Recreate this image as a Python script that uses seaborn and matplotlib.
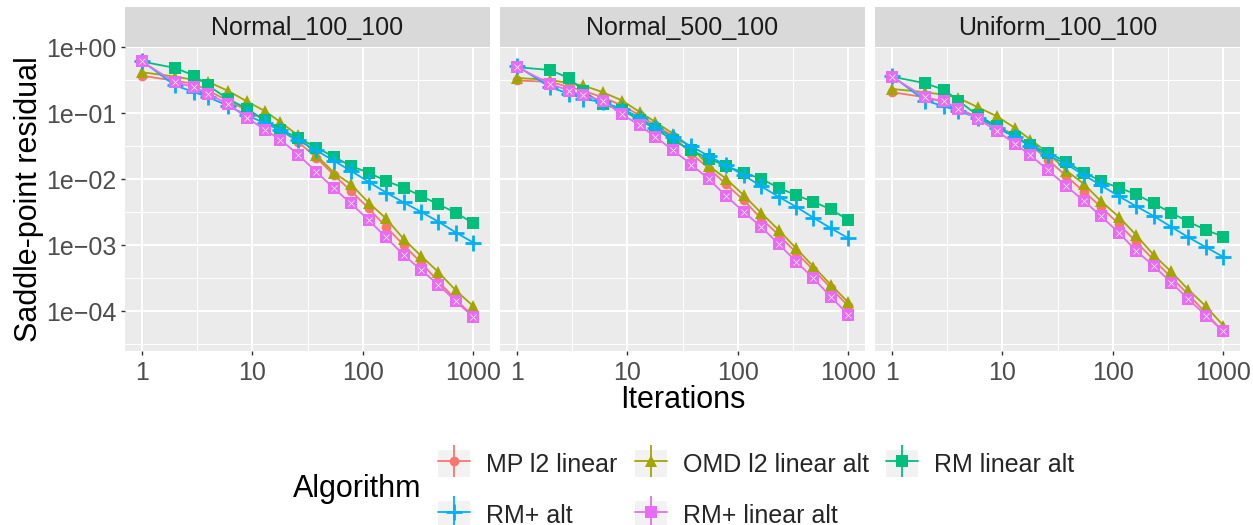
import numpy as np
import pandas as pd
import matplotlib
matplotlib.use("Agg")
import matplotlib.pyplot as plt
import seaborn as sns
from matplotlib.lines import Line2D
from matplotlib.patches import Rectangle
from matplotlib.legend_handler import HandlerTuple
from matplotlib.ticker import FixedLocator, NullFormatter

# iterations (log spaced, rounded)
iters = [1, 2, 3, 4, 6, 9, 13, 18, 26, 38, 55, 78, 113, 162, 234, 336, 483, 695, 1000]

panels = ["Normal_100_100", "Normal_500_100", "Uniform_100_100"]
algorithms = ["MP l2 linear", "OMD l2 linear alt", "RM linear alt", "RM+ alt", "RM+ linear alt"]

# Normal_100_100
n1_mp = [0.373, 0.31, 0.28, 0.22, 0.156, 0.110, 0.078, 0.056, 0.0367, 0.0212, 0.0115, 0.00667,
         0.0036, 0.0019, 0.0010, 0.000544, 0.00028, 0.000148, 0.000083]
n1_omd = [0.42, 0.36, 0.32, 0.30, 0.22, 0.151, 0.108, 0.0736, 0.046, 0.023, 0.0125, 0.0084,
          0.0044, 0.00254, 0.00124, 0.000686, 0.000389, 0.000205, 0.000118]
n1_rm = [0.61, 0.487, 0.373, 0.264, 0.166, 0.117, 0.078, 0.0563, 0.0426, 0.0301, 0.0218, 0.0159,
         0.0125, 0.00944, 0.0074, 0.0056, 0.00414, 0.0031, 0.00214]
n1_rmp = [0.63, 0.264, 0.209, 0.175, 0.131, 0.0927, 0.071, 0.055, 0.0388, 0.0274, 0.0189, 0.0134,
          0.0091, 0.00628, 0.00444, 0.0032, 0.00226, 0.00155, 0.00109]
n1_rmpl = [0.61, 0.296, 0.249, 0.197, 0.139, 0.0855, 0.0563, 0.0398, 0.0236, 0.0129, 0.00723, 0.00429,
           0.0024, 0.00131, 0.00071, 0.000421, 0.00025, 0.00014, 0.000081]

# Normal_500_100
n5_mp = [0.314, 0.30, 0.25, 0.22, 0.175, 0.131, 0.093, 0.0655, 0.045, 0.0244, 0.0145, 0.0084,
         0.0048, 0.00254, 0.00143, 0.00077, 0.00042, 0.000223, 0.000118]
n5_omd = [0.344, 0.32, 0.286, 0.264, 0.209, 0.156, 0.104, 0.0736, 0.049, 0.0301, 0.0159, 0.0102,
          0.00573, 0.0031, 0.0017, 0.000896, 0.000473, 0.00025, 0.000135]
n5_rm = [0.50, 0.454, 0.34, 0.22, 0.136, 0.112, 0.078, 0.0583, 0.0388, 0.0274, 0.0205, 0.0159,
         0.0125, 0.0102, 0.0074, 0.00573, 0.00454, 0.00348, 0.0024]
n5_rmp = [0.528, 0.249, 0.197, 0.166, 0.147, 0.117, 0.0855, 0.060, 0.0436, 0.0315, 0.0223, 0.0163,
          0.0115, 0.00783, 0.0054, 0.00382, 0.0026, 0.0018, 0.00127]
n5_rmpl = [0.51, 0.279, 0.22, 0.186, 0.156, 0.096, 0.0655, 0.0436, 0.0274, 0.0167, 0.0099, 0.0056,
           0.0032, 0.0019, 0.00104, 0.000564, 0.000315, 0.000163, 0.000088]

# Uniform_100_100
u1_mp = [0.209, 0.175, 0.147, 0.117, 0.088, 0.065, 0.046, 0.0327, 0.0198, 0.0111, 0.00644, 0.00382,
         0.00209, 0.00113, 0.000597, 0.000327, 0.000177, 0.0000933, 0.0000476]
u1_omd = [0.234, 0.209, 0.19, 0.171, 0.124, 0.0896, 0.060, 0.0398, 0.025, 0.0135, 0.0084, 0.00465,
          0.0027, 0.00143, 0.00071, 0.000398, 0.00021, 0.000118, 0.00006]
u1_rm = [0.36, 0.286, 0.226, 0.156, 0.093, 0.063, 0.0436, 0.0327, 0.025, 0.0183, 0.0125, 0.00944,
         0.0074, 0.00593, 0.00429, 0.0031, 0.00226, 0.0017, 0.00134]
u1_rmp = [0.373, 0.156, 0.127, 0.108, 0.0855, 0.060, 0.0436, 0.0315, 0.023, 0.0169, 0.0115, 0.0081,
          0.00554, 0.0039, 0.00276, 0.0019, 0.00131, 0.00093, 0.00066]
u1_rmpl = [0.36, 0.175, 0.151, 0.117, 0.0826, 0.0537, 0.0346, 0.023, 0.0137, 0.00783, 0.00465, 0.00276,
           0.00155, 0.000826, 0.000484, 0.000271, 0.000152, 0.0000849, 0.0000493]

series = {
    "Normal_100_100": [n1_mp, n1_omd, n1_rm, n1_rmp, n1_rmpl],
    "Normal_500_100": [n5_mp, n5_omd, n5_rm, n5_rmp, n5_rmpl],
    "Uniform_100_100": [u1_mp, u1_omd, u1_rm, u1_rmp, u1_rmpl],
}

rows = []
for p in panels:
    for alg, vals in zip(algorithms, series[p]):
        for it, v in zip(iters, vals):
            rows.append((p, alg, it, v))
df = pd.DataFrame(rows, columns=["Problem", "Algorithm", "Iterations", "Residual"])

# ggplot-like styling
colors = {"MP l2 linear": "#F8766D", "OMD l2 linear alt": "#A3A500", "RM linear alt": "#00BF7D",
          "RM+ alt": "#00B0F6", "RM+ linear alt": "#E76BF3"}
markers = {"MP l2 linear": "o", "OMD l2 linear alt": "^", "RM linear alt": "s",
           "RM+ alt": "+", "RM+ linear alt": "s"}
msizes = {"MP l2 linear": 7, "OMD l2 linear alt": 9, "RM linear alt": 8,
          "RM+ alt": 11, "RM+ linear alt": 8}

sns.set_style("darkgrid", {"axes.facecolor": "#EBEBEB", "grid.color": "white"})
plt.rcParams["font.family"] = ["Liberation Sans", "DejaVu Sans"]

W, H = 1253, 525
fig = plt.figure(figsize=(W / 100, H / 100), dpi=100)

lefts = [125, 500, 875]
pw = 365
ptop, pbot = 47, 351
strip_h = 40

for i, p in enumerate(panels):
    ax = fig.add_axes([lefts[i] / W, 1 - pbot / H, pw / W, (pbot - ptop) / H])
    sub = df[df["Problem"] == p]
    for alg in algorithms:
        d = sub[sub["Algorithm"] == alg]
        mew = 2.0 if alg == "RM+ alt" else 0
        sns.lineplot(data=d, x="Iterations", y="Residual", ax=ax, color=colors[alg],
                     marker=markers[alg], markersize=msizes[alg], markeredgewidth=mew,
                     markeredgecolor=colors[alg], linewidth=1.3, legend=False)
        if alg == "RM+ linear alt":
            sns.lineplot(data=d, x="Iterations", y="Residual", ax=ax, color="#F09CF6",
                         marker="x", markersize=4, markeredgewidth=0.5, linestyle="",
                         legend=False)
    ax.set_xscale("log")
    ax.set_yscale("log")
    ax.set_xlim(10 ** -0.15, 10 ** 3.15)
    ax.set_ylim(10 ** -4.606, 10 ** 0.005)
    ax.xaxis.set_major_locator(FixedLocator([1, 10, 100, 1000]))
    ax.set_xticklabels(["1", "10", "100", "1000"])
    ax.xaxis.set_minor_locator(FixedLocator([10 ** 0.5, 10 ** 1.5, 10 ** 2.5]))
    ax.xaxis.set_minor_formatter(NullFormatter())
    ax.yaxis.set_major_locator(FixedLocator([1, 1e-1, 1e-2, 1e-3, 1e-4]))
    ax.set_yticklabels(["1e+00", "1e\u221201", "1e\u221202", "1e\u221203", "1e\u221204"])
    ax.yaxis.set_minor_locator(FixedLocator([10 ** -k for k in (0.5, 1.5, 2.5, 3.5, 4.5)]))
    ax.yaxis.set_minor_formatter(NullFormatter())
    ax.grid(which="major", color="white", linewidth=1.4)
    ax.grid(which="minor", color="white", linewidth=0.7)
    ax.tick_params(which="minor", length=0)
    ax.tick_params(which="major", length=3, width=1, color="#333333", labelcolor="#4D4D4D",
                   labelsize=18, pad=3)
    ax.tick_params(axis="x", which="major", bottom=True, pad=4)
    if i == 0:
        ax.tick_params(axis="y", which="major", left=True)
    else:
        ax.tick_params(axis="y", which="major", left=False, labelleft=False)
    for s in ax.spines.values():
        s.set_visible(False)
    ax.set_xlabel("")
    ax.set_ylabel("")

    # facet strip
    sax = fig.add_axes([lefts[i] / W, 1 - ptop / H, pw / W, strip_h / H])
    sax.set_facecolor("#D9D9D9")
    sax.set_xticks([])
    sax.set_yticks([])
    sax.grid(False)
    for s in sax.spines.values():
        s.set_visible(False)
    sax.text(0.5, 0.47, p, ha="center", va="center", fontsize=18, color="#1A1A1A",
             transform=sax.transAxes)

fig.text((lefts[0] + lefts[2] + pw) / 2 / W, 1 - 400 / H, "Iterations", ha="center", va="center",
         fontsize=22, color="black")
fig.text(29 / W, 1 - 199 / H, "Saddle-point residual", ha="center", va="center", rotation=90,
         fontsize=22, color="black")

# legend: grey key background + line with marker + vertical bar
handles = []
for alg in algorithms:
    bg = Rectangle((0, 0), 1, 1, facecolor="#F2F2F2", edgecolor="none")
    mew = 2.0 if alg == "RM+ alt" else 0
    hl = Line2D([], [], color=colors[alg], linewidth=1.3, marker=markers[alg],
                markersize=msizes[alg], markeredgewidth=mew, markeredgecolor=colors[alg])
    vl = Line2D([], [], color=colors[alg], linestyle="", marker="|", markersize=23,
                markeredgewidth=1.3)
    handles.append((bg, hl, vl))

order = [0, 3, 1, 4, 2]
leg = fig.legend([handles[k] for k in order], [algorithms[k] for k in order],
                 handler_map={tuple: HandlerTuple(ndivide=1, pad=0)},
                 loc="upper left", bbox_to_anchor=(438 / W, 1 - 450 / H), ncol=3,
                 frameon=False, fontsize=18, handlelength=1.28, handleheight=1.28,
                 handletextpad=0.64, columnspacing=0.7, labelspacing=0.95, borderpad=0,
                 borderaxespad=0)
fig.text(293 / W, 1 - 489 / H, "Algorithm", ha="left", va="center", fontsize=22, color="black")

fig.savefig("out.png", dpi=100)
